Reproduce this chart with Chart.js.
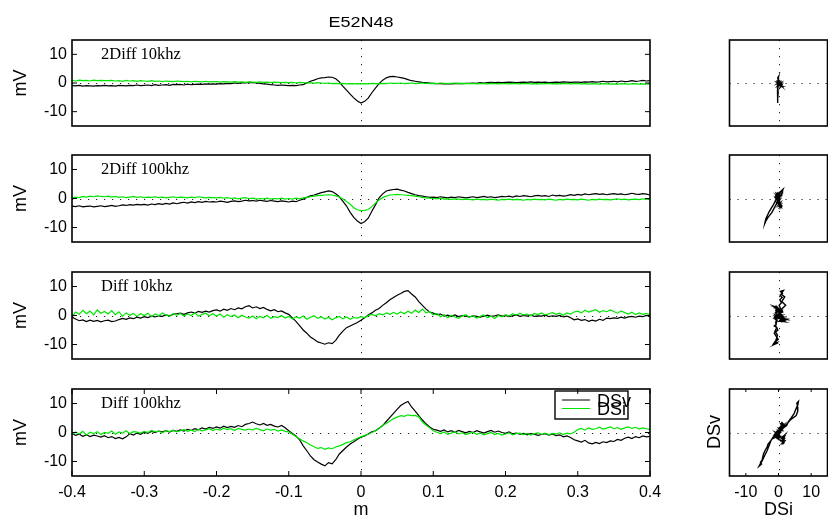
<!DOCTYPE html>
<html><head><meta charset="utf-8">
<script src="https://cdn.jsdelivr.net/npm/chart.js@4.4.1/dist/chart.umd.min.js"></script>
<style>
html,body{margin:0;padding:0;background:#fff;}
#wrap{position:relative;width:828px;height:516px;overflow:hidden;background:#fff;}
canvas{position:absolute;left:0;top:0;}
</style></head><body><div id="wrap"></div>
<script>
// ---------------- data ----------------
const chartTitle = 'E52N48';
const panelNames = ['2Diff 10khz', '2Diff 100khz', 'Diff 10khz', 'Diff 100khz'];
const seriesNames = ['DSv', 'DSi'];
const yLabel = 'mV';
const xLabel = 'm';
const yTicks = [-10, 0, 10];
const xTicks = [-0.4, -0.3, -0.2, -0.1, 0, 0.1, 0.2, 0.3, 0.4];
const sideTicks = [-10, 0, 10];
// sampling positions (m): -0.4 .. 0.4 every 0.005
const distance = Array.from({length: 161}, (_, i) => +(-0.4 + i * 0.005).toFixed(3));

const dsv2Diff10k = [
 -0.9,-1.0,-0.8,-1.1,-0.9,-1.0,-1.1,-0.9,-1.0,-0.8,
 -1.0,-0.9,-1.1,-0.8,-0.9,-1.0,-0.8,-0.9,-0.7,-0.9,
 -0.8,-0.7,-0.9,-0.6,-0.8,-0.7,-0.6,-0.8,-0.5,-0.6,
 -0.5,-0.7,-0.4,-0.6,-0.5,-0.4,-0.5,-0.3,-0.4,-0.3,
 -0.4,-0.2,-0.3,-0.1,-0.2,0.0,-0.1,0.1,0.0,0.2,
 0.1,0.0,-0.1,-0.3,-0.4,-0.6,-0.7,-0.8,-0.7,-0.8,
 -0.9,-0.8,-0.9,-0.7,-0.6,0.0,0.6,1.0,1.5,1.8,
 1.9,2.1,2.0,1.5,0.4,-1.2,-2.5,-3.9,-5.2,-6.3,
 -7.0,-6.4,-5.3,-3.4,-1.8,-0.2,1.0,1.8,2.2,2.3,
 2.1,1.9,1.6,1.2,0.8,0.6,0.4,0.2,0.1,0.0,
 -0.1,-0.2,-0.2,-0.3,-0.2,-0.3,-0.2,-0.1,-0.2,-0.1,
 -0.1,0.0,-0.1,0.1,0.0,0.1,0.2,0.1,0.2,0.1,
 0.2,0.3,0.2,0.1,0.2,0.3,0.2,0.4,0.2,0.3,
 0.2,0.3,0.1,0.2,0.3,0.2,0.4,0.3,0.2,0.3,
 0.3,0.2,0.4,0.3,0.5,0.3,0.4,0.6,0.4,0.5,
 0.6,0.4,0.7,0.5,0.6,0.8,0.6,0.7,0.9,0.7,0.8];
const dsi2Diff10k = [
 0.9,0.7,1.0,0.8,0.9,0.7,1.0,0.8,0.9,0.8,
 0.8,0.9,0.7,0.8,0.6,0.9,0.7,0.8,0.6,0.8,
 0.7,0.6,0.8,0.6,0.7,0.5,0.7,0.6,0.5,0.7,
 0.6,0.5,0.6,0.4,0.6,0.5,0.4,0.6,0.4,0.5,
 0.5,0.3,0.5,0.4,0.3,0.5,0.3,0.4,0.2,0.4,
 0.3,0.2,0.4,0.2,0.3,0.1,0.3,0.2,0.1,0.2,
 0.1,0.2,0.0,0.2,0.1,0.0,0.1,-0.1,0.1,0.0,
 -0.1,0.0,-0.2,-0.1,-0.2,-0.1,-0.3,-0.2,-0.3,-0.2,
 -0.3,-0.2,-0.3,-0.1,-0.2,-0.3,-0.1,-0.2,0.0,-0.1,
 -0.1,0.0,-0.2,-0.1,0.0,-0.2,-0.1,0.0,-0.1,-0.2,
 -0.1,-0.2,0.0,-0.1,-0.2,-0.1,0.0,-0.2,-0.1,-0.2,
 -0.2,-0.1,-0.3,-0.1,-0.2,-0.3,-0.1,-0.2,-0.3,-0.2,
 -0.2,-0.3,-0.1,-0.2,-0.3,-0.2,-0.1,-0.3,-0.2,-0.3,
 -0.3,-0.2,-0.1,-0.3,-0.2,-0.3,-0.2,-0.1,-0.3,-0.2,
 -0.2,-0.3,-0.2,-0.4,-0.2,-0.3,-0.4,-0.2,-0.3,-0.4,
 -0.3,-0.4,-0.2,-0.3,-0.4,-0.3,-0.2,-0.4,-0.3,-0.4,-0.3];

const dsv2Diff100k = [
 -2.6,-2.8,-2.5,-2.9,-2.7,-2.6,-2.9,-2.7,-2.5,-2.8,
 -2.6,-2.4,-2.7,-2.5,-2.2,-2.4,-2.1,-2.3,-2.0,-2.2,
 -2.0,-2.3,-1.9,-2.1,-1.8,-2.0,-1.7,-1.9,-1.5,-1.8,
 -1.5,-1.3,-1.6,-1.2,-1.4,-1.1,-1.3,-1.0,-1.2,-1.1,
 -1.2,-0.9,-1.1,-1.3,-1.0,-0.8,-1.1,-0.9,-0.6,-0.8,
 -0.7,-0.9,-0.6,-0.8,-1.0,-0.7,-0.9,-1.1,-0.8,-1.0,
 -1.2,-0.9,-1.1,-0.6,-0.2,0.4,0.9,1.2,1.6,2.0,
 2.3,2.6,2.4,1.6,0.6,-1.0,-2.6,-4.8,-6.5,-7.8,
 -8.6,-8.0,-6.8,-4.4,-2.2,0.2,1.6,2.6,2.9,3.1,
 3.2,2.9,2.6,2.1,1.7,1.3,1.0,0.8,0.6,0.4,
 0.5,0.3,0.6,0.4,0.2,0.5,0.3,0.6,0.4,0.2,
 0.4,0.6,0.3,0.5,0.7,0.4,0.6,0.3,0.5,0.7,
 0.6,0.8,0.5,0.9,0.7,1.0,0.8,0.6,0.9,1.1,
 0.8,1.0,0.7,1.2,0.9,1.1,0.8,1.0,1.3,1.1,
 1.4,1.2,1.6,1.3,1.5,1.7,1.4,1.6,1.3,1.5,
 1.7,1.4,1.6,1.3,1.5,1.8,1.5,1.4,1.7,1.5,1.2];
const dsi2Diff100k = [
 0.2,0.5,0.3,0.7,0.5,0.8,0.6,0.9,0.7,0.6,
 0.8,0.5,0.7,0.4,0.6,0.3,0.5,0.7,0.4,0.6,
 0.3,0.5,0.4,0.6,0.3,0.5,0.2,0.4,0.6,0.3,
 0.5,0.4,0.2,0.5,0.3,0.6,0.4,0.2,0.4,0.3,
 0.2,0.4,0.1,0.3,0.0,0.2,-0.1,0.1,0.3,0.0,
 0.1,-0.2,0.0,-0.1,0.1,-0.2,0.0,-0.1,0.1,-0.2,
 0.0,-0.2,0.1,-0.1,0.2,0.4,0.6,0.8,1.0,1.1,
 1.2,1.3,1.2,0.9,0.5,-0.2,-1.0,-2.0,-3.2,-3.9,
 -4.2,-4.1,-3.8,-2.8,-1.6,-0.5,0.3,0.8,1.2,1.3,
 1.4,1.3,1.2,1.1,1.0,0.8,0.6,0.4,0.2,0.1,
 0.0,-0.1,0.1,-0.2,-0.1,-0.3,-0.1,-0.2,-0.4,-0.2,
 -0.3,-0.5,-0.2,-0.4,-0.3,-0.5,-0.2,-0.4,-0.6,-0.3,
 -0.4,-0.2,-0.5,-0.3,-0.4,-0.6,-0.3,-0.5,-0.2,-0.4,
 -0.3,-0.5,-0.2,-0.4,-0.6,-0.3,-0.5,-0.2,-0.4,-0.3,
 -0.5,-0.2,-0.4,-0.6,-0.3,-0.5,-0.2,-0.4,-0.3,-0.5,
 -0.3,-0.1,-0.4,-0.2,-0.5,-0.3,-0.2,-0.4,-0.1,-0.3,-0.2];

const dsvDiff10k = [
 -0.5,-1.2,-1.8,-1.5,-2.1,-1.6,-2.0,-1.7,-2.2,-1.8,
 -1.6,-2.1,-1.9,-1.4,-1.0,-1.3,-0.8,-1.1,-0.6,-0.9,
 -0.4,-0.7,-0.2,-0.5,-0.1,-0.3,0.2,-0.1,0.4,0.6,
 0.8,0.4,0.9,1.2,0.8,1.4,1.1,1.5,1.2,1.7,
 1.9,1.5,2.2,1.8,2.4,2.0,2.6,2.3,3.0,3.4,
 2.6,3.0,2.4,2.8,2.1,1.6,2.0,1.3,1.6,0.9,
 0.4,-0.8,-2.0,-3.5,-5.0,-6.1,-7.4,-8.2,-9.1,-9.5,
 -9.9,-9.4,-9.7,-8.6,-6.8,-5.4,-4.2,-3.6,-3.0,-2.4,
 -1.6,-0.8,0.2,0.9,1.8,2.4,3.5,4.4,5.4,6.2,
 7.0,7.6,8.3,8.6,7.4,6.4,4.8,3.5,2.2,1.2,
 0.8,0.3,0.5,-0.2,0.1,-0.3,0.2,-0.4,0.0,-0.2,
 -0.5,-0.1,-0.3,-0.6,-0.2,0.1,-0.3,-0.1,0.2,-0.2,
 0.0,-0.4,-0.1,0.2,-0.3,0.0,-0.2,0.1,-0.3,-0.1,
 -0.2,0.1,-0.4,-0.1,-0.3,0.0,-0.5,-0.2,-0.8,-1.5,
 -1.2,-1.7,-1.4,-2.0,-1.6,-1.9,-1.3,-1.7,-0.9,-1.1,
 -0.8,-1.0,-0.6,-0.9,-0.5,-0.3,-0.6,-0.2,-0.4,0.0,-0.2];
const dsiDiff10k = [
 -0.3,1.2,0.4,1.8,0.6,1.5,0.2,1.9,0.8,1.4,
 0.5,1.7,0.3,1.3,-0.2,0.9,0.1,0.7,-0.3,0.6,
 0.0,0.8,-0.4,0.5,-0.1,0.9,0.2,-0.3,0.6,0.1,
 0.7,-0.2,0.5,0.0,0.9,-0.3,0.4,0.8,-0.1,0.6,
 -0.2,0.5,-0.6,0.3,-0.4,0.2,-0.8,0.1,-0.5,-0.9,
 -0.2,-1.1,-0.3,-0.8,0.1,-1.0,-0.4,-0.7,0.0,-0.9,
 -0.3,-1.2,-0.5,-0.9,-0.2,-1.3,-0.6,-0.1,-1.0,-0.4,
 -1.2,-0.6,-1.5,-0.8,-0.3,-1.1,-0.5,-1.3,-0.7,-0.9,
 -0.4,-0.8,0.0,0.4,-0.1,0.6,0.2,0.9,0.4,1.1,
 0.5,1.2,0.6,1.5,0.8,1.9,1.0,2.2,0.9,1.3,
 0.2,0.7,-0.4,0.3,-0.8,0.1,-0.5,-1.0,-0.2,0.3,
 -0.6,-0.1,-0.9,-0.3,0.2,-0.7,-0.2,-1.0,0.0,-0.5,
 0.3,-0.2,0.6,0.1,0.8,0.2,0.5,-0.1,0.7,0.3,
 0.9,0.2,0.6,1.0,0.4,0.8,0.1,0.9,0.5,1.2,
 1.5,0.9,1.8,1.2,1.6,2.0,1.1,1.7,1.3,1.9,
 1.4,0.8,1.6,1.0,0.5,1.1,0.3,0.9,0.4,0.7,0.2];

const dsvDiff100k = [
 -0.4,-1.0,-0.6,-1.3,-0.8,-1.4,-0.9,-1.2,-1.6,-1.1,
 -1.8,-1.4,-2.1,-1.7,-2.2,-1.5,-0.4,-0.9,-0.2,-0.6,
 0.1,-0.3,0.4,0.0,0.5,0.2,0.6,0.1,0.7,0.4,
 0.9,0.5,1.1,0.7,1.3,0.9,1.6,1.2,1.8,1.4,
 1.9,1.5,2.2,1.7,2.1,1.8,2.4,2.0,2.8,3.1,
 3.6,3.0,2.6,3.1,2.5,2.8,2.2,1.9,2.4,1.6,
 0.6,-0.3,-1.2,-2.5,-4.6,-6.3,-8.1,-9.4,-10.2,-10.9,
 -11.5,-10.4,-10.8,-9.4,-7.4,-6.2,-5.0,-4.0,-3.2,-2.3,
 -1.6,-1.2,-0.5,0.2,0.6,1.5,2.4,3.8,5.2,6.6,
 8.0,9.3,10.1,10.7,8.8,7.4,5.8,4.3,3.0,1.9,
 1.1,0.8,0.4,0.9,0.2,0.6,0.1,0.7,0.3,-0.1,
 0.4,0.0,0.6,0.2,-0.2,0.3,0.7,0.1,0.5,0.0,
 -0.3,0.2,-0.5,-0.2,-0.6,-0.3,-0.8,-0.4,-0.6,-1.0,
 -0.7,-0.4,-0.9,-0.5,-1.1,-0.8,-1.5,-1.2,-1.7,-2.5,
 -2.9,-3.3,-2.7,-3.6,-3.9,-3.4,-3.8,-3.2,-3.5,-2.9,
 -3.1,-2.4,-2.7,-2.0,-1.6,-2.1,-1.4,-1.8,-1.2,-1.5,-1.3];
const dsiDiff100k = [
 -0.8,0.2,-0.5,0.4,-0.9,0.1,-0.4,0.3,-0.7,0.0,
 -0.3,0.5,-0.6,0.2,-0.2,0.6,-0.4,0.3,0.1,-0.2,
 0.4,0.0,0.7,0.2,0.5,-0.1,0.6,0.3,0.8,0.2,
 0.6,1.0,0.4,0.8,0.3,1.1,0.6,0.9,1.3,0.7,
 1.2,0.8,1.5,1.0,1.3,0.7,1.4,1.1,0.8,1.2,
 0.9,1.4,1.0,0.6,1.2,0.8,1.1,0.5,0.9,0.4,
 0.2,-0.6,-1.4,-2.2,-2.9,-3.5,-4.3,-4.9,-5.5,-5.2,
 -5.8,-5.3,-5.6,-5.0,-4.6,-4.1,-3.5,-3.2,-2.6,-2.0,
 -1.5,-1.0,-0.6,0.0,0.6,1.4,2.5,3.1,4.0,4.8,
 5.3,5.8,5.6,6.1,5.8,5.9,5.4,3.6,2.6,1.6,
 0.6,0.1,-0.4,0.2,-0.6,-0.2,0.3,-0.5,-0.1,-0.7,
 -0.3,0.1,-0.6,-0.2,-0.8,-0.4,0.0,-0.7,-0.3,-0.9,
 -0.5,-0.1,-0.8,-0.4,-0.2,-0.7,-0.3,-0.9,-0.4,-0.1,
 -0.6,-0.2,-0.8,-0.3,-0.5,-0.1,-0.7,-0.2,-0.5,0.1,
 1.0,1.4,0.8,1.6,1.1,1.3,1.8,1.2,1.5,1.9,
 1.3,1.7,1.1,1.6,1.9,1.4,1.8,1.2,1.6,1.3,1.0];

const DSV = [dsv2Diff10k, dsv2Diff100k, dsvDiff10k, dsvDiff100k];
const DSI = [dsi2Diff10k, dsi2Diff100k, dsiDiff10k, dsiDiff100k];

// ---------------- layout / style ----------------
const W = 828, H = 516;
const SANS = '"Liberation Sans", Arial, sans-serif';
const SERIF = '"Liberation Serif", "Times New Roman", serif';
const GREEN = '#00e600';
const panelTop = [40, 155, 272, 389];
const panelBottom = [126, 242, 359, 476];
const mainLeft = 72, mainRight = 650;
const sideLeft = 729.5, sideRight = 827.5;
const xAxisH = 40;
const wrap = document.getElementById('wrap');

function makeCanvas() {
  const c = document.createElement('canvas');
  c.width = W; c.height = H;
  c.style.width = W + 'px'; c.style.height = H + 'px';
  wrap.appendChild(c);
  return c;
}

function framePlugin(cfg) {
  return {
    id: 'frame',
    beforeDatasetsDraw(chart) {
      const {ctx, chartArea: a, scales: {x, y}} = chart;
      const px = x.getPixelForValue(0), py = y.getPixelForValue(0);
      ctx.save();
      ctx.strokeStyle = '#222'; ctx.lineWidth = 1; ctx.setLineDash([1.2, 6.8]);
      ctx.beginPath();
      ctx.moveTo(Math.round(px) + 0.5, a.top); ctx.lineTo(Math.round(px) + 0.5, a.bottom);
      ctx.moveTo(a.left, Math.round(py) + 0.5); ctx.lineTo(a.right, Math.round(py) + 0.5);
      ctx.stroke();
      ctx.restore();
    },
    afterDraw(chart) {
      const {ctx, chartArea: a, scales: {x, y}} = chart;
      ctx.save();
      ctx.strokeStyle = '#000'; ctx.lineWidth = 1;
      ctx.beginPath();
      if (cfg.yMarks) {
        y.ticks.forEach(t => {
          const p = y.getPixelForValue(t.value);
          ctx.moveTo(a.left, p); ctx.lineTo(a.left + cfg.len, p);
          ctx.moveTo(a.right, p); ctx.lineTo(a.right - cfg.len, p);
        });
      }
      if (cfg.xMarks) {
        x.ticks.forEach(t => {
          const p = x.getPixelForValue(t.value);
          ctx.moveTo(p, a.bottom); ctx.lineTo(p, a.bottom - cfg.len);
          ctx.moveTo(p, a.top); ctx.lineTo(p, a.top + cfg.len);
        });
      }
      ctx.stroke();
      ctx.lineWidth = 1.6;
      ctx.strokeRect(a.left, a.top, a.right - a.left, a.bottom - a.top);
      ctx.restore();
    }
  };
}

function textPlugin(items) {
  return {
    id: 'texts',
    afterDraw(chart) {
      const ctx = chart.ctx;
      items.forEach(it => {
        ctx.save();
        ctx.fillStyle = '#000';
        ctx.font = it.size + 'px ' + (it.family || SANS);
        ctx.textAlign = it.align || 'left';
        ctx.textBaseline = 'alphabetic';
        ctx.translate(it.x, it.y);
        if (it.rotate) ctx.rotate(-Math.PI / 2);
        if (it.sy) ctx.scale(1, it.sy);
        ctx.fillText(it.text, 0, 0);
        ctx.restore();
      });
    }
  };
}

const legendPlugin = {
  id: 'legendBox',
  afterDatasetsDraw(chart) {
    const {ctx, chartArea: a} = chart;
    const bx = a.right - 95, by = a.top + 2, bw = 73, bh = 28;
    ctx.save();
    ctx.fillStyle = '#fff';
    ctx.fillRect(bx, by, bw, bh);
    ctx.strokeStyle = '#000'; ctx.lineWidth = 1.4;
    ctx.strokeRect(bx, by, bw, bh);
    const ds = chart.data.datasets;
    const rows = [{ly: by + 9, ty: by + 15.5}, {ly: by + 17.5, ty: by + 24}];
    ds.forEach((d, k) => {
      ctx.strokeStyle = d.borderColor; ctx.lineWidth = 1;
      ctx.beginPath(); ctx.moveTo(bx + 7, rows[k].ly); ctx.lineTo(bx + 35, rows[k].ly); ctx.stroke();
    });
    ds.forEach((d, k) => {
      ctx.fillStyle = '#000';
      ctx.font = '18px ' + SANS;
      ctx.textAlign = 'left'; ctx.textBaseline = 'alphabetic';
      ctx.fillText(d.label, bx + 42, rows[k].ty);
    });
    ctx.restore();
  }
};

function tickFont() { return {size: 16, family: SANS}; }

// ---------------- main panels ----------------
for (let i = 0; i < 4; i++) {
  const isBottom = i === 3;
  const mid = (panelTop[i] + panelBottom[i]) / 2;
  const items = [
    {text: panelNames[i], x: 101, y: panelTop[i] + 19, size: 16.5, family: SERIF},
    {text: yLabel, x: 26, y: mid, size: 18, align: 'center', rotate: true}
  ];
  if (i === 0) items.push({text: chartTitle, x: 361, y: 27, size: 18, align: 'center', sy: 0.85});
  if (isBottom) items.push({text: xLabel, x: 361, y: 515, size: 18, align: 'center'});
  const plugins = [framePlugin({yMarks: true, xMarks: isBottom, len: 5}), textPlugin(items)];
  if (isBottom) plugins.push(legendPlugin);
  new Chart(makeCanvas(), {
    type: 'line',
    data: {
      datasets: [
        {label: seriesNames[0], data: distance.map((x, k) => ({x, y: DSV[i][k]})),
         borderColor: '#000', borderWidth: 1.2, pointRadius: 0, tension: 0, order: 1},
        {label: seriesNames[1], data: distance.map((x, k) => ({x, y: DSI[i][k]})),
         borderColor: GREEN, borderWidth: 1.2, pointRadius: 0, tension: 0, order: 0}
      ]
    },
    options: {
      responsive: false, animation: false, devicePixelRatio: 1,
      layout: {padding: {left: 0, top: panelTop[i], right: W - mainRight,
                         bottom: isBottom ? H - panelBottom[i] - xAxisH : H - panelBottom[i]}},
      plugins: {legend: {display: false}, tooltip: {enabled: false}},
      events: [],
      scales: {
        x: {type: 'linear', min: -0.4, max: 0.4, display: isBottom,
            afterBuildTicks: s => { s.ticks = xTicks.map(v => ({value: v})); },
            afterFit: s => { s.height = isBottom ? xAxisH : 0; },
            grid: {display: false, drawTicks: false}, border: {display: false},
            ticks: {font: tickFont(), color: '#000', padding: 7, maxRotation: 0, autoSkip: false,
                    callback: v => String(v)}},
        y: {type: 'linear', min: -15, max: 15,
            afterBuildTicks: s => { s.ticks = yTicks.map(v => ({value: v})); },
            afterFit: s => { s.width = mainLeft; },
            grid: {display: false, drawTicks: false}, border: {display: false},
            ticks: {font: tickFont(), color: '#000', padding: 5, callback: v => String(v)}}
      }
    },
    plugins
  });
}

// ---------------- side (DSi vs DSv) panels ----------------
for (let i = 0; i < 4; i++) {
  const isBottom = i === 3;
  const items = [];
  if (isBottom) {
    items.push({text: seriesNames[1], x: 778.5, y: 515, size: 18, align: 'center'});
    items.push({text: seriesNames[0], x: 720, y: 432, size: 18, align: 'center', rotate: true});
  }
  new Chart(makeCanvas(), {
    type: 'scatter',
    data: {
      datasets: [
        {label: seriesNames[0] + ' vs ' + seriesNames[1],
         data: DSI[i].map((v, k) => ({x: v, y: DSV[i][k]})),
         showLine: true, borderColor: '#000', borderWidth: 1.4, pointRadius: 0, tension: 0}
      ]
    },
    options: {
      responsive: false, animation: false, devicePixelRatio: 1,
      layout: {padding: {left: sideLeft, top: panelTop[i], right: W - sideRight,
                         bottom: isBottom ? H - panelBottom[i] - xAxisH : H - panelBottom[i]}},
      plugins: {legend: {display: false}, tooltip: {enabled: false}},
      events: [],
      scales: {
        x: {type: 'linear', min: -15, max: 15, display: isBottom,
            afterBuildTicks: s => { s.ticks = sideTicks.map(v => ({value: v})); },
            afterFit: s => { s.height = isBottom ? xAxisH : 0; },
            grid: {display: false, drawTicks: false}, border: {display: false},
            ticks: {font: tickFont(), color: '#000', padding: 7, maxRotation: 0, autoSkip: false,
                    callback: v => String(v)}},
        y: {type: 'linear', min: -15, max: 15, display: false,
            afterBuildTicks: s => { s.ticks = sideTicks.map(v => ({value: v})); }}
      }
    },
    plugins: [framePlugin({yMarks: false, xMarks: isBottom, len: 3}), textPlugin(items)]
  });
}
</script>
</body></html>
